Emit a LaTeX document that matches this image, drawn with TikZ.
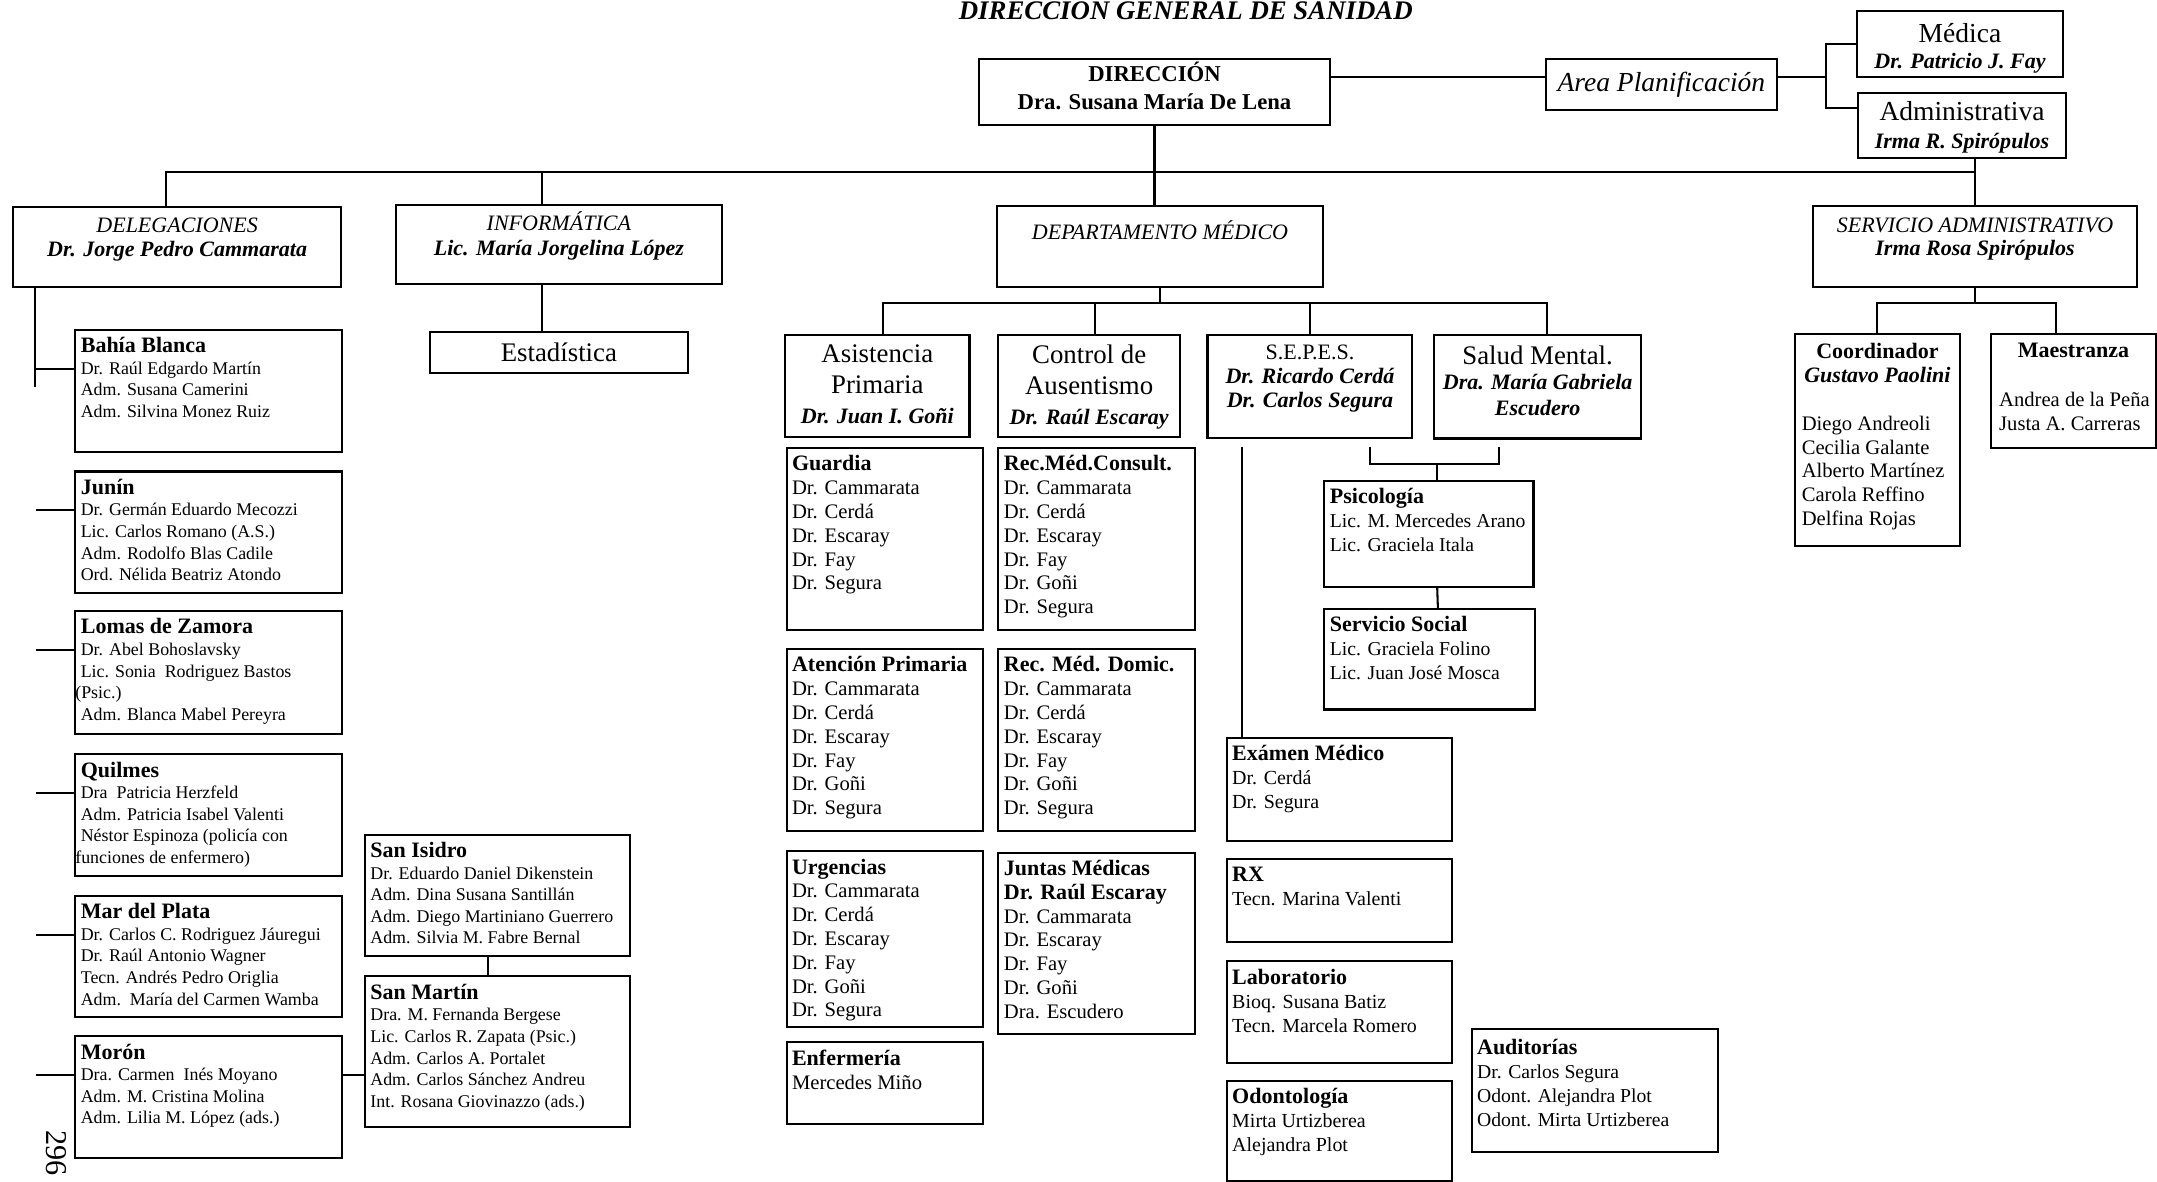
\documentclass[tikz,border=0pt]{standalone}
\usepackage{fontspec}
\setmainfont{Liberation Serif}
\newcommand{\FS}[2]{\fontsize{#1}{#2}\selectfont}
\newcommand{\Unit}[1]{{\FS{16}{17}\bfseries #1}}
\newcommand{\Chief}[1]{{\FS{16}{17}\bfseries\itshape #1}}
\newcommand{\ListBox}[3]{\parbox[c][#2pt][t]{#1pt}{\raggedright\leftskip=4pt\relax\vspace*{5.5pt}#3}}
\newcommand{\HeadBox}[4]{\parbox[c][#2pt][t]{#1pt}{\centering\vspace*{#3pt}#4}}

\begin{document}
\begin{tikzpicture}[x=1pt,y=-1pt,
  unit/.style={draw,line width=1.5pt,inner sep=0pt,anchor=north west},
  link/.style={line width=1.5pt},
  deleg/.style={unit,font=\FS{13}{15.7}},
  dept/.style={unit,font=\FS{15}{17.3}},
  side/.style={unit,font=\FS{14.5}{17.5}}]
\useasboundingbox (0,0) rectangle (1568,859);

\node[anchor=base,font=\FS{19.5}{21}\bfseries\itshape] (titulo) at (862,14.5) {DIRECCION GENERAL DE SANIDAD};

\node[unit] (direccion) at (711,42) {\HeadBox{255}{48}{2.6}{\FS{16.5}{20}\bfseries DIRECCIÓN\\Dra. Susana María De Lena}};
\node[unit,minimum width=168pt,minimum height=37pt,font=\FS{20}{22}\itshape] (area) at (1123,42) {Area Planificación};
\node[unit] (medica) at (1349,7) {\HeadBox{150}{48}{9.5}{\FS{16}{19}{\FS{20}{22}Médica}\\\Chief{Dr. Patricio J. Fay}}};
\node[unit] (administ) at (1350,67) {\HeadBox{151}{47}{6}{\FS{16}{20.5}{\FS{20}{22}Administrativa}\\\Chief{Irma R. Spirópulos}}};

\node[unit] (delegac) at (9,150) {\HeadBox{238}{58}{8}{\FS{16}{17}\textit{DELEGACIONES}\\\Chief{Dr. Jorge Pedro Cammarata}}};
\node[unit] (informat) at (287,148.5) {\HeadBox{237}{57.5}{4.5}{\FS{16}{18}\textit{INFORMÁTICA}\\\Chief{Lic. María Jorgelina López}}};
\node[unit] (deptmed) at (724,149) {\HeadBox{237}{59}{10.3}{\FS{16}{17}\textit{DEPARTAMENTO MÉDICO}}};
\node[unit] (servadm) at (1317,149) {\HeadBox{236}{59}{8.9}{\FS{16}{16.5}\textit{SERVICIO ADMINISTRATIVO}\\\Chief{Irma Rosa Spirópulos}}};
\node[unit,minimum width=188pt,minimum height=30pt,font=\FS{19.5}{22}] (estadist) at (311.5,240.5) {Estadística};

\node[unit] (asist) at (570,243) {\HeadBox{134}{74}{6.7}{\FS{15.5}{21.5}{\FS{19.5}{23}Asistencia\\Primaria\par}\Chief{Dr. Juan I. Goñi}}};
\node[unit] (control) at (725,243) {\HeadBox{132}{74}{6.7}{\FS{15.5}{21.5}{\FS{19.5}{23}Control de\\Ausentismo\par}\Chief{Dr. Raúl Escaray}}};
\node[unit] (sepes) at (877,242.5) {\HeadBox{149}{75}{7.4}{\FS{15.5}{17.5}{\FS{16}{18}S.E.P.E.S.}\\\Chief{Dr. Ricardo Cerdá}\\\Chief{Dr. Carlos Segura}}};
\node[unit] (salud) at (1042,243) {\HeadBox{150}{75}{7.7}{\FS{15.5}{18.5}{\FS{19.5}{22}Salud Mental.}\\\Chief{Dra. María Gabriela}\\\Chief{Escudero}}};

\node[dept] (guardia) at (571,325) {\ListBox{143}{132}{\Unit{Guardia}\\Dr. Cammarata\\Dr. Cerdá\\Dr. Escaray\\Dr. Fay\\Dr. Segura}};
\node[dept] (atencion) at (571,471) {\ListBox{143}{132}{\Unit{Atención Primaria}\\Dr. Cammarata\\Dr. Cerdá\\Dr. Escaray\\Dr. Fay\\Dr. Goñi\\Dr. Segura}};
\node[dept] (urgenc) at (571,618) {\ListBox{143}{128}{\Unit{Urgencias}\\Dr. Cammarata\\Dr. Cerdá\\Dr. Escaray\\Dr. Fay\\Dr. Goñi\\Dr. Segura}};
\node[dept] (enferm) at (571,757) {\ListBox{143}{59}{\Unit{Enfermería}\\Mercedes Miño}};
\node[dept] (recons) at (725,325) {\ListBox{143}{132}{\Unit{Rec.Méd.Consult.}\\Dr. Cammarata\\Dr. Cerdá\\Dr. Escaray\\Dr. Fay\\Dr. Goñi\\Dr. Segura}};
\node[dept] (recdom) at (725,471) {\ListBox{143}{132}{\Unit{Rec. Méd. Domic.}\\Dr. Cammarata\\Dr. Cerdá\\Dr. Escaray\\Dr. Fay\\Dr. Goñi\\Dr. Segura}};
\node[dept] (juntas) at (725,619) {\ListBox{143}{132}{\Unit{Juntas Médicas}\\\Unit{Dr. Raúl Escaray}\\Dr. Cammarata\\Dr. Escaray\\Dr. Fay\\Dr. Goñi\\Dra. Escudero}};

\node[side,font=\FS{14.3}{17.3}] (psico) at (962,349) {\ListBox{152}{77}{\Unit{Psicología}\\Lic. M. Mercedes Arano\\Lic. Graciela Itala}};
\node[side,font=\FS{14.3}{17.3}] (servsoc) at (962,442) {\ListBox{153}{73}{\Unit{Servicio Social}\\Lic. Graciela Folino\\Lic. Juan José Mosca}};
\node[side] (examen) at (891,535.5) {\ListBox{164}{75}{\Unit{Exámen Médico}\\Dr. Cerdá\\Dr. Segura}};
\node[side] (rx) at (891,624) {\ListBox{164}{60}{\Unit{RX}\\Tecn. Marina Valenti}};
\node[side] (labor) at (891,698) {\ListBox{164}{74}{\Unit{Laboratorio}\\Bioq. Susana Batiz\\Tecn. Marcela Romero}};
\node[side] (odonto) at (891,785) {\ListBox{164}{73}{\Unit{Odontología}\\Mirta Urtizberea\\Alejandra Plot}};
\node[side,font=\FS{14.3}{17.5}] (audit) at (1069,747) {\parbox[c][90pt][t]{179pt}{\raggedright\leftskip=4pt\relax\vspace*{7.5pt}\Unit{Auditorías}\\Dr. Carlos Segura\\Odont. Alejandra Plot\\Odont. Mirta Urtizberea}};

\node[unit,font=\FS{15}{17.3}] (coord) at (1304,242) {\parbox[c][154pt][t]{120pt}{\vspace*{7pt}{\centering\Unit{Coordinador}\\\Chief{Gustavo Paolini}\par}\vspace{17.3pt}\raggedright\leftskip=5pt Diego Andreoli\\Cecilia Galante\\Alberto Martínez\\Carola Reffino\\Delfina Rojas}};
\node[unit,font=\FS{15}{17.5}] (maestr) at (1446.5,242) {\parbox[c][83pt][t]{120pt}{\vspace*{7pt}{\centering\Unit{Maestranza}\par}\vspace{17.5pt}\raggedright\leftskip=6pt Andrea de la Peña\\Justa A. Carreras}};

\node[deleg] (bahia) at (54,239) {\ListBox{194}{88.5}{\Unit{Bahía Blanca}\\Dr. Raúl Edgardo Martín\\Adm. Susana Camerini\\Adm. Silvina Monez Ruiz}};
\node[deleg] (junin) at (54,342) {\ListBox{194}{88}{\Unit{Junín}\\Dr. Germán Eduardo Mecozzi\\Lic. Carlos Romano (A.S.)\\Adm. Rodolfo Blas Cadile\\Ord. Nélida Beatriz Atondo}};
\node[deleg] (lomas) at (54,443.5) {\ListBox{194}{89}{\Unit{Lomas de Zamora}\\Dr. Abel Bohoslavsky\\Lic. Sonia\ \ Rodriguez Bastos\\\hspace*{-4pt}(Psic.)\\Adm. Blanca Mabel Pereyra}};
\node[deleg] (quilmes) at (54,547.5) {\ListBox{194}{88.5}{\Unit{Quilmes}\\Dra\ \ Patricia Herzfeld\\Adm. Patricia Isabel Valenti\\Néstor Espinoza (policía con\\\hspace*{-4pt}funciones de enfermero)}};
\node[deleg] (mardel) at (54,650.5) {\ListBox{194}{88}{\Unit{Mar del Plata}\\Dr. Carlos C. Rodriguez Jáuregui\\Dr. Raúl Antonio Wagner\\Tecn. Andrés Pedro Origlia\\Adm.\ \ María del Carmen Wamba}};
\node[deleg] (moron) at (54,752.5) {\ListBox{194}{88.5}{\Unit{Morón}\\Dra. Carmen\ \ Inés Moyano\\Adm. M. Cristina Molina\\Adm. Lilia M. López (ads.)}};
\node[deleg] (sanisid) at (264.5,606) {\ListBox{192.5}{88}{\Unit{San Isidro}\\Dr. Eduardo Daniel Dikenstein\\Adm. Dina Susana Santillán\\Adm. Diego Martiniano Guerrero\\Adm. Silvia M. Fabre Bernal}};
\node[deleg] (sanmart) at (264.5,709) {\ListBox{192.5}{109.5}{\Unit{San Martín}\\Dra. M. Fernanda Bergese\\Lic. Carlos R. Zapata (Psic.)\\Adm. Carlos A. Portalet\\Adm. Carlos Sánchez Andreu\\Int. Rosana Giovinazzo (ads.)}};

\node[rotate=-90,font=\FS{22}{24}] (folio) at (41,838) {296};

\coordinate (areaIn) at ([yshift=5pt]area.west);
\coordinate (areaOut) at ([yshift=5pt]area.east);
\coordinate (admIn) at ([yshift=-11.5pt]administ.north west);
\draw[link] (direccion.east |- areaIn) -- (areaIn);
\draw[link] (areaOut) -- ++(35,0) coordinate (planJ);
\draw[link] (medica.west) -| (planJ |- admIn) -- (admIn);

\coordinate (busY) at (0,125.3);
\draw[link] ([xshift=-8pt]delegac.north) |- (busY -| servadm.north);
\draw[link] (direccion.south) -- (direccion.south |- deptmed.north);
\draw[link] (administ.south -| servadm.north) -- (servadm.north);
\draw[link] ([xshift=-12pt]informat.north) -- ++(0,-23.2);
\draw[link] ([xshift=-12pt]informat.south) -- ([xshift=-12pt]estadist.north);

\draw[link] ([xshift=16.5pt]delegac.south west) -- ++(0,72);
\draw[link] ([yshift=-29pt]bahia.north west) -- ++(-29,0);
\draw[link] ([yshift=-29pt]junin.north west) -- ++(-28,0);
\draw[link] ([yshift=-29pt]lomas.north west) -- ++(-28,0);
\draw[link] ([yshift=-29pt]quilmes.north west) -- ++(-28,0);
\draw[link] ([yshift=-29pt]mardel.north west) -- ++(-28,0);
\draw[link] ([yshift=-29pt]moron.north west) -- ++(-28,0);
\coordinate (moronOut) at ([yshift=-29pt]moron.north east);
\draw[link] (moronOut) -- (moronOut -| sanmart.west);
\draw[link] ([xshift=-7pt]sanisid.south) -- ([xshift=-7pt]sanmart.north);

\coordinate (deptY) at (0,220);
\coordinate (asistTop) at ([xshift=4pt]asist.north);
\coordinate (saludTop) at ([xshift=7pt]salud.north);
\draw[link] (deptmed.south) -- (deptmed.south |- deptY);
\draw[link] (asistTop) |- (deptY -| saludTop) -- (saludTop);
\draw[link] ([xshift=4pt]control.north) -- ++(0,-23);
\draw[link] (sepes.north) -- ++(0,-22.5);

\coordinate (maesTop) at ([xshift=-13pt]maestr.north);
\draw[link] (servadm.south) -- (servadm.south |- deptY);
\draw[link] (coord.north) |- (deptY -| maesTop) -- (maesTop);

\coordinate (brL) at (996,325);
\draw[link] (brL) -- ++(0,12) -- ++(94,0) -- ++(0,-12);
\draw[link] ([xshift=6pt]psico.north) -- ++(0,-12);
\draw[link] ([xshift=6pt]psico.south) -- ([xshift=6pt]servsoc.north);
\coordinate (sepesX) at (903,325);
\draw[link] (sepesX) -- (sepesX |- examen.north);
\end{tikzpicture}
\end{document}
